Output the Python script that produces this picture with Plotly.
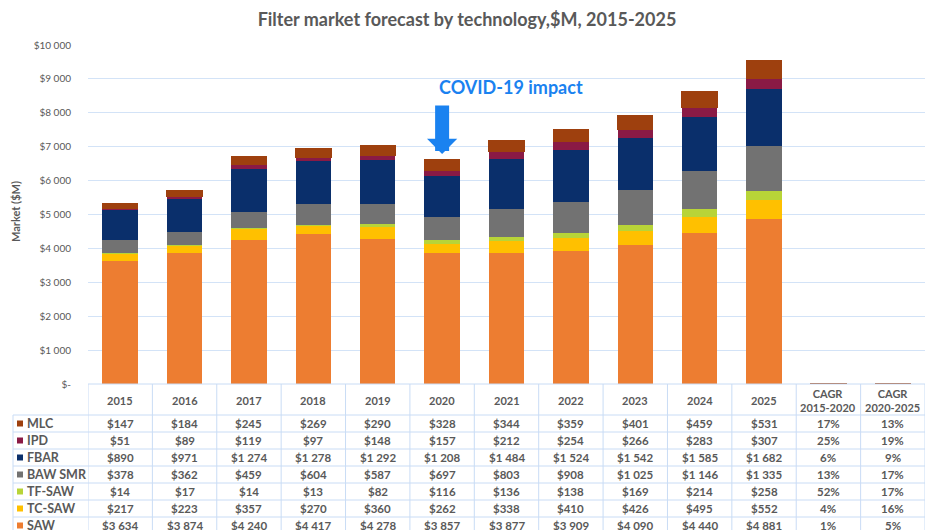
import plotly.graph_objects as go

years = ["2015", "2016", "2017", "2018", "2019", "2020", "2021", "2022", "2023", "2024", "2025"]
cagr_headers = ["CAGR<br>2015-2020", "CAGR<br>2020-2025"]

series_names = ["MLC", "IPD", "FBAR", "BAW SMR", "TF-SAW", "TC-SAW", "SAW"]
mlc = [147, 184, 245, 269, 290, 328, 344, 359, 401, 459, 531]
ipd = [51, 89, 119, 97, 148, 157, 212, 254, 266, 283, 307]
fbar = [890, 971, 1274, 1278, 1292, 1208, 1484, 1524, 1542, 1585, 1682]
baw_smr = [378, 362, 459, 604, 587, 697, 803, 908, 1025, 1146, 1335]
tf_saw = [14, 17, 14, 13, 82, 116, 136, 138, 169, 214, 258]
tc_saw = [217, 223, 357, 270, 360, 262, 338, 410, 426, 495, 552]
saw = [3634, 3874, 4240, 4417, 4278, 3857, 3877, 3909, 4090, 4440, 4881]

# CAGR (%) per series, in table order MLC..SAW
cagr_2015_2020 = [17, 25, 6, 13, 52, 4, 1]
cagr_2020_2025 = [13, 19, 9, 17, 17, 16, 5]

colors = ["#9E400E", "#8A1A45", "#0A2F6B", "#727272", "#B8D438", "#FFC000", "#ED7D31"]

y_tick_vals = [0, 1000, 2000, 3000, 4000, 5000, 6000, 7000, 8000, 9000, 10000]
y_tick_text = ["$-", "$1 000", "$2 000", "$3 000", "$4 000", "$5 000", "$6 000",
               "$7 000", "$8 000", "$9 000", "$10 000"]

values = [mlc, ipd, fbar, baw_smr, tf_saw, tc_saw, saw]

W, H = 925, 530
L, R, T, B = 88, 0, 45, 146
plot_w = W - L - R
plot_h = H - T - B
n_cols = len(years) + len(cagr_headers)


def py(y):  # pixel y -> paper y
    return (H - B - y) / plot_h


def px(x):  # pixel x -> paper x
    return (x - L) / plot_w


def money(v):
    s = f"{v:,}".replace(",", " ")
    return "$" + s


grey = "#595959"
font_fam = "Lato, 'Open Sans', sans-serif"

fig = go.Figure()
xs = list(range(n_cols))
# stack from bottom (SAW) to top (MLC)
for i in reversed(range(len(series_names))):
    yv = values[i] + [cagr_2015_2020[i] / 100, cagr_2020_2025[i] / 100]
    fig.add_trace(go.Bar(
        x=xs, y=yv, name=series_names[i],
        marker=dict(color=colors[i], line=dict(color=colors[i], width=1 if i == 0 else 0)),
        showlegend=False, hoverinfo="skip",
    ))

annotations = []
shapes = []

# header row
headers = years + cagr_headers
for k, h in enumerate(headers):
    annotations.append(dict(x=k, y=py(400), xref="x", yref="paper", text=f"<b>{h}</b>",
                            showarrow=False, font=dict(size=11, color=grey, family=font_fam),
                            xanchor="center", yanchor="middle"))

row_h = 17
row_top0 = 415
for r, name in enumerate(series_names):
    yc = row_top0 + r * row_h + row_h / 2
    # legend key square
    shapes.append(dict(type="rect", xref="paper", yref="paper",
                       x0=px(17), x1=px(23), y0=py(yc - 3), y1=py(yc + 3),
                       fillcolor=colors[r], line=dict(width=0)))
    annotations.append(dict(x=px(25), y=py(yc), xref="paper", yref="paper",
                            text=f"<b>{name}</b>", showarrow=False,
                            font=dict(size=12.5, color=grey, family=font_fam),
                            xanchor="left", yanchor="middle"))
    row_vals = [money(v) for v in values[r]] + [f"{cagr_2015_2020[r]}%", f"{cagr_2020_2025[r]}%"]
    for k, t in enumerate(row_vals):
        annotations.append(dict(x=k, y=py(yc), xref="x", yref="paper", text=f"<b>{t}</b>",
                                showarrow=False, font=dict(size=11.5, color=grey, family=font_fam),
                                xanchor="center", yanchor="middle"))

line_c = "#C9DCF5"
# horizontal table lines
shapes.append(dict(type="line", xref="paper", yref="paper", x0=0, x1=1, y0=0, y1=0,
                   line=dict(color=line_c, width=1)))
for r in range(len(series_names) + 1):
    yy = row_top0 + r * row_h
    shapes.append(dict(type="line", xref="paper", yref="paper", x0=px(13), x1=1,
                       y0=py(yy), y1=py(yy), line=dict(color=line_c, width=1)))
# vertical table lines
for k in range(n_cols + 1):
    shapes.append(dict(type="line", xref="x", yref="paper", x0=k - 0.5, x1=k - 0.5,
                       y0=py(384), y1=py(540), line=dict(color=line_c, width=1)))
shapes.append(dict(type="line", xref="paper", yref="paper", x0=px(13), x1=px(13),
                   y0=py(row_top0), y1=py(540), line=dict(color=line_c, width=1)))

# COVID annotation
total_2020 = sum(v[5] for v in values)
annotations.append(dict(x=5, y=total_2020 + 160, xref="x", yref="y", ax=0, ay=-50,
                        text="", showarrow=True, arrowhead=1, arrowsize=0.36, arrowwidth=14,
                        arrowcolor="#1A82F0"))
annotations.append(dict(x=px(511), y=py(87), xref="paper", yref="paper",
                        text="<b>COVID-19 impact</b>", showarrow=False,
                        font=dict(size=18, color="#1A82F0", family=font_fam),
                        xanchor="center", yanchor="middle"))

# y-axis title
annotations.append(dict(x=px(16), y=py(212), xref="paper", yref="paper",
                        text="<b>Market ($M)</b>", textangle=-90, showarrow=False,
                        font=dict(size=11, color=grey, family=font_fam),
                        xanchor="center", yanchor="middle"))

fig.update_layout(
    width=W, height=H,
    margin=dict(l=L, r=R, t=T, b=B),
    paper_bgcolor="white", plot_bgcolor="white",
    barmode="stack", bargap=0.45,
    title=dict(text="<b>Filter market forecast by technology,$M, 2015-2025</b>",
               x=467 / W, xanchor="center", y=1 - 20 / H, yanchor="middle",
               font=dict(size=18, color=grey, family=font_fam)),
    xaxis=dict(range=[-0.5, n_cols - 0.5], showticklabels=False, showgrid=False,
               zeroline=False, showline=False, fixedrange=True),
    yaxis=dict(range=[0, 10000], tickvals=y_tick_vals, ticktext=y_tick_text,
               showgrid=True, gridcolor="#D3E3F7", gridwidth=1, zeroline=False,
               ticks="outside", ticklen=14, tickcolor="rgba(0,0,0,0)",
               tickfont=dict(size=10, color=grey, family=font_fam)),
    annotations=annotations,
    shapes=shapes,
)

fig.write_html(
    "out.html",
    config={"displayModeBar": False},
    post_script="document.body.style.margin='0';document.body.style.overflow='hidden';",
)
